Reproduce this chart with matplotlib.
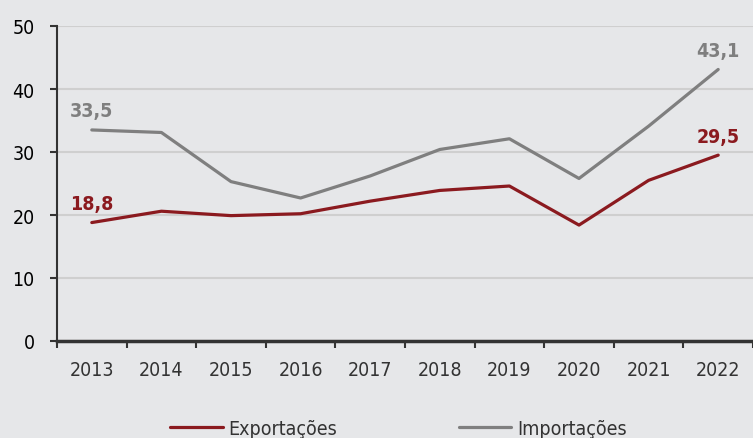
import numpy as np
import matplotlib.pyplot as plt

anos = ["2013", "2014", "2015", "2016", "2017", "2018", "2019", "2020", "2021", "2022"]
exportacoes = [18.8, 20.6, 19.9, 20.2, 22.2, 23.9, 24.6, 18.4, 25.5, 29.5]
importacoes = [33.5, 33.1, 25.3, 22.7, 26.2, 30.4, 32.1, 25.8, 34.1, 43.1]

plt.rcParams['font.family'] = ['DejaVu Sans']
plt.rcParams['font.stretch'] = 'condensed'

fundo = "#e6e7e9"
vermelho = "#8b1a1f"
cinza = "#7f7f7f"
escuro = "#333333"

fig = plt.figure(figsize=(7.53, 4.39), dpi=100, facecolor=fundo)
ax = fig.add_axes([57/753, 1 - 342/439, 696/753, 315/439])
ax.set_facecolor(fundo)

x = np.arange(len(anos))
ax.plot(x, exportacoes, color=vermelho, lw=2.3, label="Exportações", solid_capstyle='round')
ax.plot(x, importacoes, color=cinza, lw=2.3, label="Importações", solid_capstyle='round')

# rótulos no primeiro e último ponto
for i in [0, len(anos) - 1]:
    ax.text(x[i], exportacoes[i] + 1.5, f"{exportacoes[i]:.1f}".replace(".", ","),
            color=vermelho, fontsize=14, fontweight='bold', ha='center', va='bottom')
    ax.text(x[i], importacoes[i] + 1.5, f"{importacoes[i]:.1f}".replace(".", ","),
            color=cinza, fontsize=14, fontweight='bold', ha='center', va='bottom')

ax.set_ylim(0, 50)
ax.set_xlim(-0.5, len(anos) - 0.5)
ax.set_yticks([0, 10, 20, 30, 40, 50])
ax.set_xticks(x)
ax.set_xticklabels(anos)
ax.set_xticks(np.arange(-0.5, len(anos)), minor=True)
ax.tick_params(axis='x', which='major', length=0, pad=14, labelsize=14, labelcolor=escuro)
ax.tick_params(axis='x', which='minor', length=5, width=1.5, color=escuro)
ax.tick_params(axis='y', length=5, width=1.5, color=escuro, labelsize=14, pad=11, labelcolor="black")

ax.grid(axis='y', color="#cfcfcf", lw=1.5)
ax.set_axisbelow(True)
for s in ["top", "right"]:
    ax.spines[s].set_visible(False)
ax.spines["left"].set_color(escuro)
ax.spines["left"].set_linewidth(1.5)
ax.spines["bottom"].set_color(escuro)
ax.spines["bottom"].set_linewidth(2.5)

fig.legend(loc='lower center', bbox_to_anchor=(0.529, -0.04), ncol=2, frameon=False,
           fontsize=14, handlelength=2.7, handletextpad=0.3, columnspacing=6.25,
           labelcolor=escuro)

fig.savefig("out.png", dpi=100, facecolor=fundo)
